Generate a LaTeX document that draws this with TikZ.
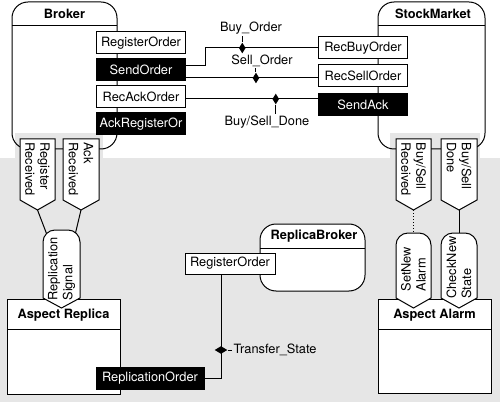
\documentclass[tikz,border=0pt]{standalone}
\usepackage{fontspec}
\setmainfont{TeX Gyre Heros}
\usepackage{tikz}
\usetikzlibrary{
  shapes.geometric
}
\definecolor{aspectgray}{RGB}{230,230,230}
\newcommand{\dfont}{\fontsize{12.8}{15}\selectfont}
\tikzset{
opbox/.style={
  draw,
  fill=white,
  font=\dfont,
  minimum width=89pt,
  minimum height=22pt,
  inner sep=0pt
},
opboxdark/.style={
  opbox,
  fill=black,
  text=white
},
ttl/.style={
  font=\dfont\bfseries
},
msglabel/.style={
  font=\dfont,
  inner sep=1pt
},
porttext/.style={
  font=\dfont,
  align=left,
  inner sep=0pt
},
diam/.style={
  diamond,
  fill=black,
  inner sep=0pt,
  minimum width=7pt,
  minimum height=11pt
}
}

\begin{document}
\begin{tikzpicture}[x=1pt, y=-1pt, line width=1pt]
  % background
  \fill[white] (0,0) rectangle (500,406);
  \fill[aspectgray] (0,158) rectangle (500,402);

  % Broker
  \fill[white, rounded corners=16pt] (12,2) rectangle (117,149);
  \fill[aspectgray] (15,133) rectangle (103,158);
  \draw[rounded corners=16pt] (12,2) rectangle (117,149);
  \draw (12,26) -- (117,26);
  \node[ttl] (broker) at (64.5,14) {Broker};

  % StockMarket
  \fill[white, rounded corners=16pt] (378,2) rectangle (485,149);
  \fill[aspectgray] (390,133) rectangle (480,158);
  \draw[rounded corners=16pt] (378,2) rectangle (485,149);
  \draw (378,26) -- (485,26);
  \node[ttl] (stock) at (433,14) {StockMarket};

  % ReplicaBroker
  \draw[fill=white, rounded corners=16pt] (260,224) rectangle (365,291);
  \draw (260,248) -- (365,248);
  \node[ttl] (replica) at (314,236) {ReplicaBroker};

  % aspects
  \draw[fill=white] (7,299) rectangle (120,394);
  \draw (7,329) -- (120,329);
  \node[ttl] (asprep) at (63.5,315) {Aspect Replica};
  \draw[fill=white] (378,299) rectangle (491,393);
  \draw (378,329) -- (491,329);
  \node[ttl] (aspalarm) at (434.5,315) {Aspect Alarm};

  % operations
  \node[opbox] (regorder) at (141,43) {RegisterOrder};
  \node[opboxdark] (sendorder) at (141,70) {SendOrder};
  \node[opbox] (recack) at (141,97) {RecAckOrder};
  \node[opboxdark] (ackreg) at (141,124) {AckRegisterOr};
  \node[opbox] (recbuy) at (363,48) {RecBuyOrder};
  \node[opbox] (recsell) at (363,76) {RecSellOrder};
  \node[opboxdark] (sendack) at (363,105) {SendAck};
  \node[opbox, minimum width=90pt, minimum height=21pt] (replregorder) at (230,263.5) {RegisterOrder};
  \node[opboxdark, minimum width=108pt] (reporder) at (150,378) {ReplicationOrder};

  % messages
  \node[msglabel] (lbuy) at (251,28) {Buy\_Order};
  \node[msglabel] (lsell) at (262,61) {Sell\_Order};
  \node[msglabel] (ldone) at (267,122) {Buy/Sell\_Done};
  \node[msglabel, anchor=west] (ltrans) at (232,350) {Transfer\_State};

  \draw ([yshift=4pt]sendorder.east) -| ([xshift=-113pt]recbuy.west)
    -- node[diam, pos=0.33] (dbuy) {} (recbuy.west);
  \draw (dbuy) -- (dbuy |- lbuy.south);
  \coordinate (s2) at ([yshift=-8pt]sendorder.east);
  \draw (s2) -- node[diam, pos=0.53] (dsell) {} (s2 -| recsell.west);
  \draw (dsell) -- (dsell |- lsell.south);
  \coordinate (s3) at ([yshift=-2pt]recack.east);
  \draw (s3) -- node[diam, pos=0.68] (ddone) {} (s3 -| sendack.west);
  \draw (ddone) -- (ddone |- ldone.north);

  \draw (reporder.east) -| ([xshift=-9pt]replregorder.south);
  \node[diam, minimum width=13pt, minimum height=8pt] (dtrans) at (221,350) {};
  \draw (dtrans) -- (ltrans.west);

  % ports of the components
  \foreach \xa/\xb/\nm/\txt in {20/55/regrec/{Register\\Received},
      63/99/ackrec/{Ack\\Received},
      396/431/bsrec/{Buy/Sell\\Received},
      441/477/bsdone/{Buy/Sell\\Done}} {
    \pgfmathsetmacro\xm{(\xa+\xb)/2}
    \draw[fill=white] (\xa,139) -- (\xa,200) -- (\xm,210) -- (\xb,200) -- (\xb,139) -- cycle;
    \coordinate (\nm) at (\xm,210);
    \node[porttext, rotate=-90, anchor=west] at (\xm,142) {\txt};
  }

  % ports of the aspects
  \foreach \xa/\xb/\yt/\yl/\nm/\txt in {43/80/230/301/repsig/{Replication\\Signal},
      396/431/233/292/setalarm/{SetNew\\Alarm},
      441/477/233/299/checkstate/{CheckNew\\State}} {
    \pgfmathsetmacro\xm{(\xa+\xb)/2}
    \draw[fill=white] (\xa,298) -- (\xa,{\yt+12})
      .. controls (\xa,{\yt+5.4}) and ({\xa+5.4},\yt) .. ({\xa+12},\yt)
      -- ({\xb-12},\yt)
      .. controls ({\xb-5.4},\yt) and (\xb,{\yt+5.4}) .. (\xb,{\yt+12})
      -- (\xb,298) -- (\xm,308) -- cycle;
    \coordinate (\nm) at (\xm,\yt);
    \node[porttext, rotate=90, anchor=west] at (\xm,\yl) {\txt};
  }

  % links to the aspects
  \draw (regrec) -- ([xshift=-15pt,yshift=-3.5pt]repsig);
  \draw (ackrec) -- ([xshift=14pt,yshift=-3pt]repsig);
  \draw[dotted] (bsrec) -- (setalarm);
  \draw (bsdone) -- (checkstate);
\end{tikzpicture}
\end{document}
